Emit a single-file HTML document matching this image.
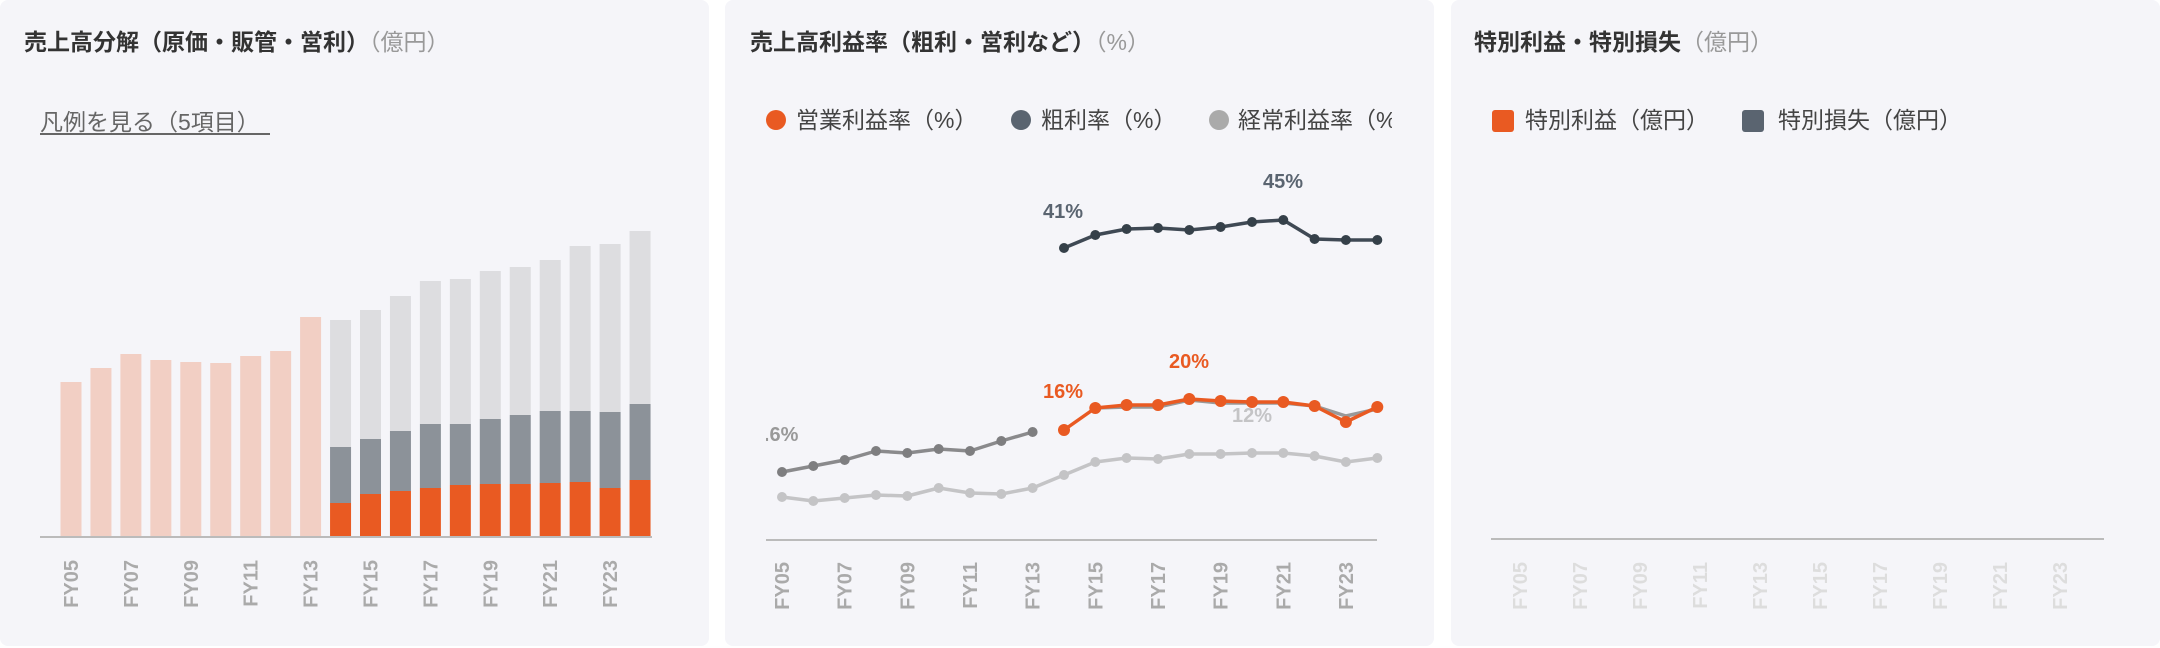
<!DOCTYPE html>
<html><head><meta charset="utf-8"><style>
html,body{margin:0;padding:0;background:#fff;}
svg{display:block;}
text{font-family:"Liberation Sans","Noto Sans CJK JP",sans-serif;}
</style></head><body>
<svg width="2160" height="648" viewBox="0 0 2160 648" xmlns="http://www.w3.org/2000/svg">
<defs>
<clipPath id="c2"><rect x="766" y="0" width="628" height="648"/></clipPath>
</defs>
<rect x="0" y="0" width="709" height="646" rx="8" fill="#f5f5f9"/>
<rect x="725" y="0" width="709" height="646" rx="8" fill="#f5f5f9"/>
<rect x="1451" y="0" width="709" height="646" rx="8" fill="#f5f5f9"/>

<!-- Panel 1 -->
<text x="24" y="50" font-size="23" font-weight="bold" fill="#333">売上高分解（原価・販管・営利）<tspan font-weight="normal" fill="#999">（億円）</tspan></text>
<text x="40" y="130" font-size="23" fill="#666">凡例を見る（5項目）</text>
<line x1="40" y1="134" x2="270" y2="134" stroke="#666" stroke-width="2"/>
<g fill="#f2cfc4">
<rect x="60.5" y="382" width="21" height="155"/>
<rect x="90.45" y="368" width="21" height="169"/>
<rect x="120.4" y="354" width="21" height="183"/>
<rect x="150.35" y="360" width="21" height="177"/>
<rect x="180.3" y="362" width="21" height="175"/>
<rect x="210.25" y="363" width="21" height="174"/>
<rect x="240.2" y="356" width="21" height="181"/>
<rect x="270.15" y="351" width="21" height="186"/>
<rect x="300.1" y="317" width="21" height="220"/>
</g>
<g fill="#dddde0">
<rect x="330.05" y="320" width="21" height="127"/>
<rect x="360" y="310" width="21" height="129"/>
<rect x="389.95" y="296" width="21" height="135"/>
<rect x="419.9" y="281" width="21" height="143"/>
<rect x="449.85" y="279" width="21" height="145"/>
<rect x="479.8" y="271" width="21" height="148"/>
<rect x="509.75" y="267" width="21" height="148"/>
<rect x="539.7" y="260" width="21" height="151"/>
<rect x="569.65" y="246" width="21" height="165"/>
<rect x="599.6" y="244" width="21" height="168"/>
<rect x="629.55" y="231" width="21" height="173"/>
</g>
<g fill="#8c9299">
<rect x="330.05" y="447" width="21" height="56"/>
<rect x="360" y="439" width="21" height="55"/>
<rect x="389.95" y="431" width="21" height="60"/>
<rect x="419.9" y="424" width="21" height="64"/>
<rect x="449.85" y="424" width="21" height="61"/>
<rect x="479.8" y="419" width="21" height="65"/>
<rect x="509.75" y="415" width="21" height="69"/>
<rect x="539.7" y="411" width="21" height="72"/>
<rect x="569.65" y="411" width="21" height="71"/>
<rect x="599.6" y="412" width="21" height="76"/>
<rect x="629.55" y="404" width="21" height="76"/>
</g>
<g fill="#e95a22">
<rect x="330.05" y="503" width="21" height="34"/>
<rect x="360" y="494" width="21" height="43"/>
<rect x="389.95" y="491" width="21" height="46"/>
<rect x="419.9" y="488" width="21" height="49"/>
<rect x="449.85" y="485" width="21" height="52"/>
<rect x="479.8" y="484" width="21" height="53"/>
<rect x="509.75" y="484" width="21" height="53"/>
<rect x="539.7" y="483" width="21" height="54"/>
<rect x="569.65" y="482" width="21" height="55"/>
<rect x="599.6" y="488" width="21" height="49"/>
<rect x="629.55" y="480" width="21" height="57"/>
</g>
<line x1="40" y1="537" x2="652" y2="537" stroke="#bbb" stroke-width="2"/>
<g font-size="20" font-weight="bold" fill="#aaa" text-anchor="end">
<text transform="translate(78,560) rotate(-90)">FY05</text>
<text transform="translate(137.9,560) rotate(-90)">FY07</text>
<text transform="translate(197.8,560) rotate(-90)">FY09</text>
<text transform="translate(257.7,560) rotate(-90)">FY11</text>
<text transform="translate(317.6,560) rotate(-90)">FY13</text>
<text transform="translate(377.5,560) rotate(-90)">FY15</text>
<text transform="translate(437.4,560) rotate(-90)">FY17</text>
<text transform="translate(497.3,560) rotate(-90)">FY19</text>
<text transform="translate(557.2,560) rotate(-90)">FY21</text>
<text transform="translate(617.1,560) rotate(-90)">FY23</text>
</g>

<!-- Panel 2 -->
<text x="750" y="50" font-size="23" font-weight="bold" fill="#333">売上高利益率（粗利・営利など）<tspan font-weight="normal" fill="#999">（%）</tspan></text>
<svg x="725" y="0" width="667" height="160" viewBox="725 0 667 160">
<circle cx="776" cy="120" r="10" fill="#e95a22"/>
<text x="796" y="128" font-size="23" fill="#444">営業利益率（%）</text>
<circle cx="1021" cy="120" r="10" fill="#5a6470"/>
<text x="1041" y="128" font-size="23" fill="#444">粗利率（%）</text>
<circle cx="1219" cy="120" r="10" fill="#aaa"/>
<text x="1238" y="128" font-size="23" fill="#444">経常利益率（%）</text>
</svg>
<line x1="766" y1="540" x2="1377" y2="540" stroke="#bbb" stroke-width="2"/>
<g stroke-width="3.5" fill="none" stroke-linejoin="round">
<polyline stroke="#c4c4c6" points="782,497 813.3,501 844.7,498 876,495 907.3,496 938.7,488 970,493 1001.3,494 1032.6,488 1064,475 1095.3,462 1126.6,458 1158,459 1189.3,454 1220.6,454 1252,453 1283.3,453 1314.6,456 1345.9,462 1377.3,458"/>
<polyline stroke="#8a8a8c" points="782,472 813.3,466 844.7,460 876,451 907.3,453 938.7,449 970,451 1001.3,441 1032.6,432"/>
<polyline stroke="#999" points="1095.3,408 1126.6,407 1158,407 1189.3,400 1220.6,403 1252,403 1283.3,403 1314.6,406 1345.9,416 1377.3,409"/>
<polyline stroke="#3f4954" points="1064,248 1095.3,235 1126.6,229 1158,228 1189.3,230 1220.6,227 1252,222 1283.3,220 1314.6,239 1345.9,240 1377.3,240"/>
<polyline stroke="#e95a22" points="1064,430 1095.3,408 1126.6,405 1158,405 1189.3,399 1220.6,401 1252,402 1283.3,402 1314.6,406 1345.9,422 1377.3,407"/>
</g>
<g fill="#c4c4c6">
<circle cx="782" cy="497" r="5"/><circle cx="813.3" cy="501" r="5"/><circle cx="844.7" cy="498" r="5"/><circle cx="876" cy="495" r="5"/><circle cx="907.3" cy="496" r="5"/><circle cx="938.7" cy="488" r="5"/><circle cx="970" cy="493" r="5"/><circle cx="1001.3" cy="494" r="5"/><circle cx="1032.6" cy="488" r="5"/><circle cx="1064" cy="475" r="5"/><circle cx="1095.3" cy="462" r="5"/><circle cx="1126.6" cy="458" r="5"/><circle cx="1158" cy="459" r="5"/><circle cx="1189.3" cy="454" r="5"/><circle cx="1220.6" cy="454" r="5"/><circle cx="1252" cy="453" r="5"/><circle cx="1283.3" cy="453" r="5"/><circle cx="1314.6" cy="456" r="5"/><circle cx="1345.9" cy="462" r="5"/><circle cx="1377.3" cy="458" r="5"/>
</g>
<g fill="#7e7e80">
<circle cx="782" cy="472" r="5"/><circle cx="813.3" cy="466" r="5"/><circle cx="844.7" cy="460" r="5"/><circle cx="876" cy="451" r="5"/><circle cx="907.3" cy="453" r="5"/><circle cx="938.7" cy="449" r="5"/><circle cx="970" cy="451" r="5"/><circle cx="1001.3" cy="441" r="5"/><circle cx="1032.6" cy="432" r="5"/>
</g>
<g fill="#354049">
<circle cx="1064" cy="248" r="5"/><circle cx="1095.3" cy="235" r="5"/><circle cx="1126.6" cy="229" r="5"/><circle cx="1158" cy="228" r="5"/><circle cx="1189.3" cy="230" r="5"/><circle cx="1220.6" cy="227" r="5"/><circle cx="1252" cy="222" r="5"/><circle cx="1283.3" cy="220" r="5"/><circle cx="1314.6" cy="239" r="5"/><circle cx="1345.9" cy="240" r="5"/><circle cx="1377.3" cy="240" r="5"/>
</g>
<g fill="#e95a22">
<circle cx="1064" cy="430" r="6"/><circle cx="1095.3" cy="408" r="6"/><circle cx="1126.6" cy="405" r="6"/><circle cx="1158" cy="405" r="6"/><circle cx="1189.3" cy="399" r="6"/><circle cx="1220.6" cy="401" r="6"/><circle cx="1252" cy="402" r="6"/><circle cx="1283.3" cy="402" r="6"/><circle cx="1314.6" cy="406" r="6"/><circle cx="1345.9" cy="422" r="6"/><circle cx="1377.3" cy="407" r="6"/>
</g>
<g font-size="20" font-weight="bold" text-anchor="middle">
<text x="1063" y="218" fill="#5a6470">41%</text>
<text x="1283" y="188" fill="#5a6470">45%</text>
<text x="1063" y="398" fill="#e95a22">16%</text>
<text x="1189" y="368" fill="#e95a22">20%</text>
<text x="1252" y="422" fill="#c4c4c6">12%</text>
<text x="770" y="441" fill="#999" clip-path="url(#c2)">10.6%</text>
</g>
<g font-size="20" font-weight="bold" fill="#aaa" text-anchor="end">
<text transform="translate(789,562) rotate(-90)">FY05</text>
<text transform="translate(851.7,562) rotate(-90)">FY07</text>
<text transform="translate(914.3,562) rotate(-90)">FY09</text>
<text transform="translate(977,562) rotate(-90)">FY11</text>
<text transform="translate(1039.6,562) rotate(-90)">FY13</text>
<text transform="translate(1102.3,562) rotate(-90)">FY15</text>
<text transform="translate(1165,562) rotate(-90)">FY17</text>
<text transform="translate(1227.6,562) rotate(-90)">FY19</text>
<text transform="translate(1290.3,562) rotate(-90)">FY21</text>
<text transform="translate(1352.9,562) rotate(-90)">FY23</text>
</g>

<!-- Panel 3 -->
<text x="1474" y="50" font-size="23" font-weight="bold" fill="#333">特別利益・特別損失<tspan font-weight="normal" fill="#999">（億円）</tspan></text>
<rect x="1492" y="110" width="22" height="22" rx="3" fill="#e95a22"/>
<text x="1525" y="128" font-size="23" fill="#444">特別利益（億円）</text>
<rect x="1742" y="110" width="22" height="22" rx="3" fill="#5a6470"/>
<text x="1778" y="128" font-size="23" fill="#444">特別損失（億円）</text>
<line x1="1491" y1="539" x2="2104" y2="539" stroke="#bbb" stroke-width="2"/>
<g font-size="20" font-weight="bold" fill="#ddd" text-anchor="end">
<text transform="translate(1527,562) rotate(-90)">FY05</text>
<text transform="translate(1587,562) rotate(-90)">FY07</text>
<text transform="translate(1647,562) rotate(-90)">FY09</text>
<text transform="translate(1707,562) rotate(-90)">FY11</text>
<text transform="translate(1767,562) rotate(-90)">FY13</text>
<text transform="translate(1827,562) rotate(-90)">FY15</text>
<text transform="translate(1887,562) rotate(-90)">FY17</text>
<text transform="translate(1947,562) rotate(-90)">FY19</text>
<text transform="translate(2007,562) rotate(-90)">FY21</text>
<text transform="translate(2067,562) rotate(-90)">FY23</text>
</g>
</svg>
</body></html>
